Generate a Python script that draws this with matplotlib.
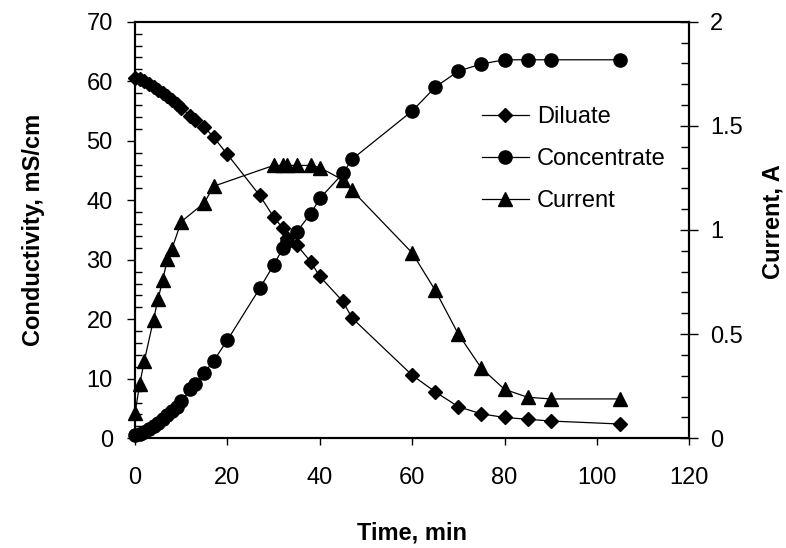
import matplotlib
matplotlib.use("Agg")
import matplotlib.pyplot as plt
from matplotlib.ticker import MultipleLocator

plt.rcParams['font.family'] = ['Liberation Sans', 'DejaVu Sans']

# conductivity samples (min)
time = [0, 1, 2, 3, 4, 5, 6, 7, 8, 9, 10, 12, 13, 15, 17, 20, 27, 30, 32, 33,
        35, 38, 40, 45, 47, 60, 65, 70, 75, 80, 85, 90, 105]
diluate = [60.5, 60.3, 60.0, 59.6, 59.1, 58.6, 58.1, 57.5, 56.9, 56.2, 55.5,
           54.2, 53.4, 52.3, 50.6, 47.7, 40.8, 37.2, 35.3, 33.6, 32.5, 29.7,
           27.2, 23.0, 20.2, 10.6, 7.8, 5.3, 4.1, 3.5, 3.2, 2.9, 2.4]
concentrate = [0.6, 0.8, 1.1, 1.5, 2.0, 2.6, 3.2, 3.9, 4.6, 5.3, 6.2, 8.2, 9.2,
               11.0, 13.0, 16.5, 25.2, 29.1, 31.9, 33.2, 34.7, 37.7, 40.3, 44.5,
               46.9, 55.0, 59.0, 61.7, 62.9, 63.6, 63.6, 63.6, 63.6]

# current samples
current_time = [0, 1, 2, 4, 5, 6, 7, 8, 10, 15, 17, 30, 32, 33, 35, 38, 40,
                45, 47, 60, 65, 70, 75, 80, 85, 90, 105]
current = [0.12, 0.26, 0.37, 0.57, 0.67, 0.76, 0.86, 0.91, 1.04, 1.13, 1.21,
           1.31, 1.31, 1.31, 1.31, 1.31, 1.30, 1.24, 1.19, 0.89, 0.71, 0.50,
           0.336, 0.235, 0.197, 0.189, 0.189]

fs = 17
fig = plt.figure(figsize=(7.86, 5.48), dpi=100)
ax = fig.add_axes([0.1718, 0.2002, 0.7052, 0.7602])
ax2 = ax.twinx()

h1, = ax.plot(time, diluate, color='black', lw=0.9, marker='D', ms=7,
              clip_on=False, label='Diluate')
h2, = ax.plot(time, concentrate, color='black', lw=0.9, marker='o', ms=9.5,
              clip_on=False, label='Concentrate')
h3, = ax2.plot(current_time, current, color='black', lw=0.9, marker='^', ms=9.5,
               clip_on=False, label='Current')

ax.set_xlim(0, 120)
ax.set_ylim(0, 70)
ax2.set_ylim(0, 2)
ax.xaxis.set_major_locator(MultipleLocator(20))
ax.yaxis.set_major_locator(MultipleLocator(10))
ax.yaxis.set_minor_locator(MultipleLocator(2))
ax2.yaxis.set_major_locator(MultipleLocator(0.5))
ax2.yaxis.set_minor_locator(MultipleLocator(0.1))
ax2.yaxis.set_major_formatter(plt.FuncFormatter(lambda v, p: ('%g' % v)))

for a in (ax, ax2):
    for s in a.spines.values():
        s.set_linewidth(1.5)

ax.tick_params(axis='x', which='major', direction='out', length=5, width=1,
               labelsize=fs, pad=15.5)
ax.tick_params(axis='y', which='major', direction='out', length=6, width=1,
               labelsize=fs, pad=10)
ax.tick_params(axis='y', which='minor', direction='in', length=5, width=1)
ax2.tick_params(axis='y', which='major', direction='inout', length=12.7, width=1,
                labelsize=fs, pad=8.6)
ax2.tick_params(axis='y', which='minor', direction='in', length=5.5, width=1)

ax.set_xlabel('Time, min', fontsize=fs, fontweight='bold')
ax.xaxis.set_label_coords(0.5, -0.20)
ax.set_ylabel('Conductivity, mS/cm', fontsize=fs, fontweight='bold')
ax.yaxis.set_label_coords(-0.162, 0.5)
ax2.set_ylabel('Current, A', fontsize=fs, fontweight='bold')
ax2.yaxis.set_label_coords(1.1306, 0.52)

fig.legend(handles=[h1, h2, h3], loc='upper left',
           bbox_to_anchor=(0.613, 0.8065), frameon=False, fontsize=fs,
           borderpad=0, borderaxespad=0, handlelength=2.0,
           handletextpad=0.34, labelspacing=0.85)

fig.savefig('out.png', dpi=100)
